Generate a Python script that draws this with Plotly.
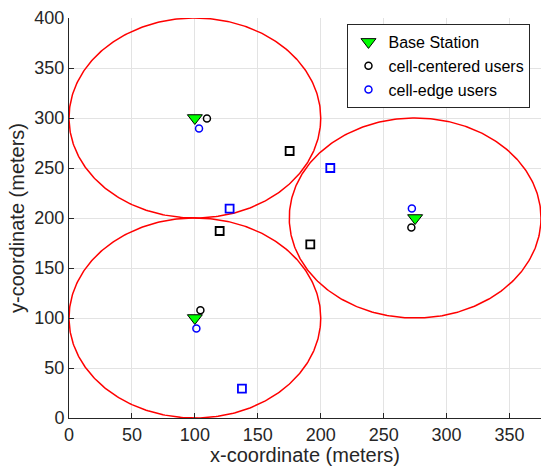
import numpy as np
import plotly.graph_objects as go

# Cells (centres and radius, meters)
cell_x = [100, 275, 100]
cell_y = [300, 200, 100]
cell_radius = [100, 100, 100]

# Base stations
bs_x = [100, 275, 100]
bs_y = [300, 200, 100]

# Cell-centered users (circles)
cc_x = [109.6, 272.0, 104.4]
cc_y = [299.5, 190.5, 107.7]

# Cell-edge users (circles)
ce_x = [103.3, 272.4, 101.2]
ce_y = [289.5, 209.4, 89.4]

# Cell-centered users (squares)
ccs_x = [175.3, 119.7, 191.7]
ccs_y = [267.0, 187.0, 173.7]

# Cell-edge users (squares)
ces_x = [207.6, 127.6, 137.4]
ces_y = [250.0, 209.4, 29.4]

FONT = "Liberation Sans, Arial, Helvetica, sans-serif"
fig = go.Figure()

t = np.linspace(0, 2 * np.pi, 400)
for cx, cy, r in zip(cell_x, cell_y, cell_radius):
    fig.add_trace(go.Scatter(x=cx + r * np.cos(t), y=cy + r * np.sin(t), mode="lines",
                             line=dict(color="#ff0000", width=1.5), showlegend=False,
                             hoverinfo="skip"))

fig.add_trace(go.Scatter(x=ccs_x, y=ccs_y, mode="markers", showlegend=False,
                         marker=dict(symbol="square-open", size=8, color="black",
                                     line=dict(width=1.8, color="black"))))
fig.add_trace(go.Scatter(x=ces_x, y=ces_y, mode="markers", showlegend=False,
                         marker=dict(symbol="square-open", size=8, color="blue",
                                     line=dict(width=1.8, color="blue"))))

fig.add_trace(go.Scatter(x=bs_x, y=bs_y, mode="markers", name="Base Station",
                         marker=dict(symbol="triangle-down", size=13, color="#00ff00",
                                     line=dict(width=1, color="black"))))
fig.add_trace(go.Scatter(x=cc_x, y=cc_y, mode="markers", name="cell-centered users",
                         marker=dict(symbol="circle-open", size=7, color="black",
                                     line=dict(width=1.5, color="black"))))
fig.add_trace(go.Scatter(x=ce_x, y=ce_y, mode="markers", name="cell-edge users",
                         marker=dict(symbol="circle-open", size=7, color="blue",
                                     line=dict(width=1.5, color="blue"))))

axis_common = dict(showgrid=True, gridcolor="#e3e3e3", gridwidth=1,
                   showline=True, linecolor="#262626", linewidth=1,
                   ticks="inside", ticklen=5, tickcolor="#262626",
                   tickfont=dict(family=FONT, size=18, color="#262626"),
                   zeroline=False, mirror=False)

fig.update_xaxes(range=[0, 375], tickvals=[0, 50, 100, 150, 200, 250, 300, 350],
                 title=dict(text="x-coordinate (meters)", font=dict(family=FONT, size=20, color="#262626"),
                            standoff=2), **axis_common)
fig.update_yaxes(range=[0, 400], tickvals=[0, 50, 100, 150, 200, 250, 300, 350, 400],
                 title=dict(text="y-coordinate (meters)", font=dict(family=FONT, size=20, color="#262626"),
                            standoff=4), **axis_common)

fig.update_layout(
    width=541, height=466,
    margin=dict(l=69, r=0, t=18, b=48),
    plot_bgcolor="white", paper_bgcolor="white",
    font=dict(family=FONT, color="#262626"),
    legend=dict(x=0.59, y=0.985, xanchor="left", yanchor="top",
                bgcolor="white", bordercolor="#262626", borderwidth=1,
                font=dict(family=FONT, size=16, color="black"),
                itemwidth=30, tracegroupgap=0),
    showlegend=True,
)

fig.write_html("out.html")
